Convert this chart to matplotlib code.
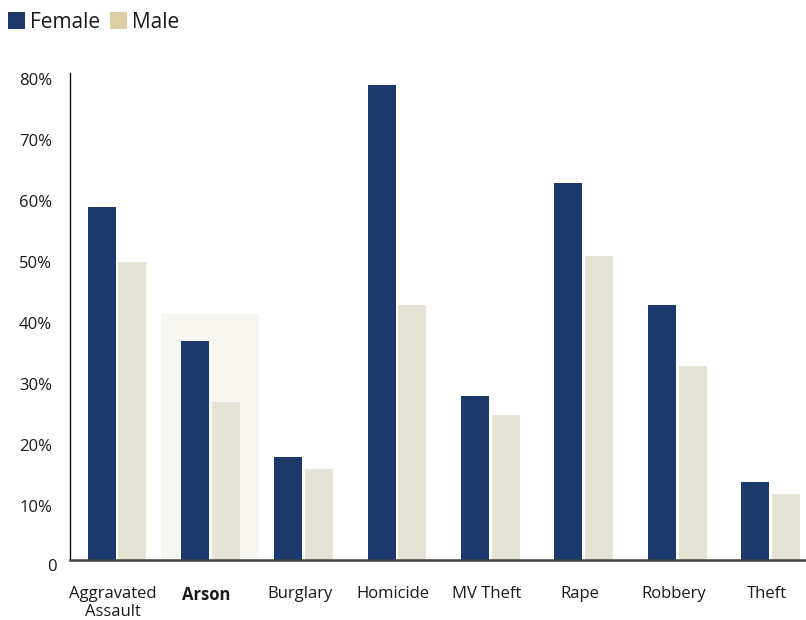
import numpy as np
import matplotlib
matplotlib.use("Agg")
import matplotlib.pyplot as plt
from matplotlib.patches import Rectangle

plt.rcParams['font.family'] = ['Open Sans', 'DejaVu Sans']

crimes = ["Aggravated\nAssault", "Arson", "Burglary", "Homicide",
          "MV Theft", "Rape", "Robbery", "Theft"]
female = [59, 37, 18, 79, 28, 63, 43, 14]
male = [50, 27, 16, 43, 25, 51, 33, 12]
highlight = "Arson"
highlight_top = 41.5
yticks = [10, 20, 30, 40, 50, 60, 70, 80]

navy = '#1b3a6b'
cream = '#e5e4d4'
tan = '#dccfa6'

fig = plt.figure(figsize=(8.06, 6.2), dpi=100)
ax = fig.add_axes([70 / 806, 60 / 620, 736 / 806, 487 / 620])

x = np.arange(len(crimes))
w = 0.3
gap = 0.015

# soft panel behind the highlighted crime
hi = crimes.index(highlight)
ax.add_patch(Rectangle((hi - 0.525, 0), 1.05, highlight_top,
                       facecolor='#f7f6f1', edgecolor='none', zorder=0))

ax.bar(x - w / 2 - gap, female, w, color=navy, zorder=2)
ax.bar(x + w / 2 + gap, male, w, color=cream, zorder=2)

ax.set_xlim(-0.503, 7.38)
ax.set_ylim(1.15, 81)

for s in ['top', 'right']:
    ax.spines[s].set_visible(False)
ax.spines['left'].set_color('#111111')
ax.spines['left'].set_linewidth(1.0)
ax.spines['bottom'].set_color('#444444')
ax.spines['bottom'].set_linewidth(1.8)

ax.set_yticks(yticks)
ax.set_yticklabels([f'{t}%' for t in yticks], fontsize=12, color='#1a1a1a')
ax.text(-0.64, 0, '0', ha='right', va='center', fontsize=12,
        color='#1a1a1a', clip_on=False)
ax.tick_params(axis='y', length=0, pad=13)

ax.set_xticks(x - 0.04)
ax.set_xticklabels(crimes, fontsize=12, color='#1a1a1a', linespacing=1.1)
for lbl in ax.get_xticklabels():
    if lbl.get_text() == highlight:
        lbl.set_fontweight('bold')
ax.tick_params(axis='x', length=0, pad=19)

# legend row across the top
fig.patches.append(Rectangle((8 / 806, 1 - 29 / 620), 17 / 806, 17 / 620,
                             transform=fig.transFigure, facecolor=navy,
                             edgecolor='none'))
fig.text(30 / 806, 1 - 22 / 620, 'Female', fontsize=15, va='center',
         color='#1a1a1a')
fig.patches.append(Rectangle((110 / 806, 1 - 29 / 620), 17 / 806, 17 / 620,
                             transform=fig.transFigure, facecolor=tan,
                             edgecolor='none'))
fig.text(132 / 806, 1 - 22 / 620, 'Male', fontsize=15, va='center',
         color='#1a1a1a')

fig.savefig('out.png', dpi=100)
